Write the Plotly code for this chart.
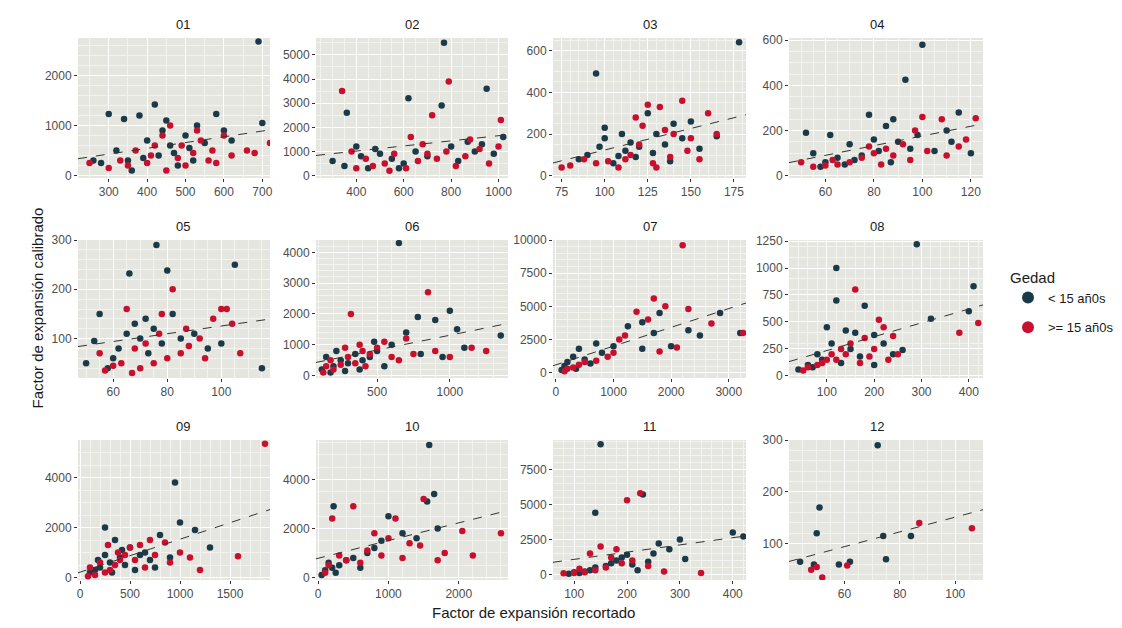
import numpy as np
import plotly.graph_objects as go

W, H = 1122, 628
DARK = "#1b3a47"
RED = "#c8102e"

panels = ["01", "02", "03", "04", "05", "06", "07", "08", "09", "10", "11", "12"]

dark_pts = {
    "01": [(690,2680),(300,1230),(340,1130),(420,1420),(380,1200),(450,1100),(580,1230),(700,1050),(530,1000),(600,900),(280,250),(320,500),(350,300),(400,700),(430,400),(460,600),(500,800),(520,300),(550,650),(480,200),(360,100),(260,300),(440,900),(620,700),(390,350),(470,450),(510,550)],
    "02": [(770,5500),(950,3600),(620,3200),(360,2600),(760,2900),(1020,1600),(870,1400),(400,1200),(500,900),(550,700),(600,500),(650,1000),(700,800),(800,1200),(900,1000),(300,600),(350,400),(450,300),(480,1100),(580,300),(830,600),(930,1300),(980,900),(420,800)],
    "03": [(178,640),(95,490),(100,230),(100,180),(110,200),(115,160),(120,140),(125,300),(130,200),(135,150),(140,250),(145,180),(150,260),(165,190),(85,80),(90,100),(105,60),(112,120),(118,90),(128,110),(138,70),(155,130),(97,140),(108,95)],
    "04": [(100,580),(93,425),(78,270),(88,250),(85,220),(115,280),(110,200),(98,180),(90,150),(80,160),(70,140),(62,180),(52,190),(55,100),(60,60),(65,80),(72,70),(75,90),(82,110),(95,120),(105,110),(120,100),(58,40),(68,50),(87,60),(112,150)],
    "05": [(76,290),(80,238),(66,232),(105,250),(115,40),(55,150),(53,95),(50,50),(60,60),(62,80),(65,110),(68,130),(70,100),(72,140),(75,120),(78,90),(85,100),(90,110),(95,80),(100,90),(58,40),(82,150),(73,70)],
    "06": [(650,4300),(1000,2100),(780,1900),(900,1800),(1050,1500),(1350,1300),(600,1000),(700,1400),(500,800),(450,600),(400,500),(350,700),(300,400),(250,500),(200,300),(150,600),(120,200),(180,100),(550,300),(800,700),(1100,900),(950,600),(380,200),(280,150),(220,800),(480,1100)],
    "07": [(2850,4500),(3200,3000),(1800,4500),(1500,3800),(1250,3500),(1000,2000),(1500,1800),(2000,2000),(2500,2800),(800,1500),(500,1000),(400,1800),(300,1200),(200,800),(150,500),(100,200),(600,700),(350,300),(1700,3000),(2300,3200),(700,2200)],
    "08": [(290,1220),(120,1000),(410,830),(180,650),(120,700),(100,450),(140,420),(160,400),(200,380),(220,300),(260,240),(320,530),(400,600),(80,200),(60,100),(40,60),(90,150),(110,300),(150,250),(170,180),(200,100),(240,200),(130,120),(70,80)],
    "09": [(950,3800),(1000,2200),(1150,1900),(250,2000),(800,1700),(500,1200),(400,800),(300,600),(200,400),(150,300),(100,200),(600,900),(700,700),(350,1500),(450,500),(550,300),(650,1000),(1300,1200),(900,800),(250,900),(180,700),(320,200),(420,1100),(750,400)],
    "10": [(1580,5400),(1650,3400),(1550,3100),(220,2900),(1000,2500),(1700,2000),(1200,1800),(900,1500),(700,1000),(500,800),(300,500),(200,400),(100,300),(150,600),(250,200),(400,700),(600,400),(800,1200),(1400,1600),(50,100)],
    "11": [(150,9300),(140,4400),(230,5700),(400,3000),(420,2700),(300,2500),(260,2200),(280,1800),(250,1500),(200,1400),(190,1200),(180,1000),(170,800),(160,600),(140,500),(130,300),(120,200),(110,100),(100,150),(90,50),(210,700),(240,900),(310,1100),(220,300)],
    "12": [(72,290),(51,170),(50,120),(44,65),(49,60),(62,65),(74,115),(84,115),(75,70),(58,60)],
}

red_pts = {
    "01": [(300,150),(330,300),(370,500),(400,250),(420,600),(440,800),(460,1000),(480,350),(500,200),(520,450),(540,700),(560,300),(580,250),(600,800),(620,400),(660,500),(720,650),(680,450),(350,200),(250,250),(450,100),(490,600),(530,900),(410,400),(570,500)],
    "02": [(340,3500),(790,3900),(720,2500),(1010,2300),(630,1600),(380,1000),(440,700),(520,500),(560,900),(610,300),(660,600),(700,900),(740,700),(780,1000),(820,400),(860,800),(920,1100),(960,500),(470,400),(540,200),(680,1300),(880,1500),(1000,1200),(400,300)],
    "03": [(125,340),(132,330),(145,360),(160,300),(118,280),(122,240),(135,220),(140,200),(150,180),(115,100),(112,80),(102,70),(95,60),(88,80),(80,50),(75,40),(108,40),(128,60),(138,90),(148,120),(155,80),(165,200),(120,150),(130,40)],
    "04": [(100,260),(122,255),(108,250),(118,160),(97,200),(92,140),(85,120),(80,100),(75,80),(70,60),(65,50),(60,45),(55,40),(50,60),(78,130),(88,90),(95,70),(102,110),(110,90),(115,130),(63,70),(83,50)],
    "05": [(65,160),(78,150),(82,200),(100,160),(102,160),(97,140),(92,100),(88,85),(85,70),(80,60),(75,50),(70,40),(67,30),(63,50),(60,45),(57,35),(55,70),(72,90),(77,110),(87,120),(94,60),(104,130),(107,70),(68,80)],
    "06": [(320,2000),(850,2700),(700,1200),(550,1100),(500,900),(450,700),(400,800),(350,400),(300,600),(250,350),(200,200),(180,500),(150,300),(130,100),(600,600),(650,500),(750,700),(900,800),(1000,600),(1150,900),(1250,800),(420,300),(280,900),(380,1000)],
    "07": [(2200,9600),(1700,5600),(1400,4600),(1900,5000),(2300,4800),(1600,4000),(1200,2800),(1000,1500),(900,1200),(1800,1600),(2100,1900),(3250,3000),(500,800),(400,600),(300,400),(200,300),(150,100),(700,900),(2700,3700),(1100,2500)],
    "08": [(160,800),(210,520),(420,490),(380,400),(240,370),(180,350),(150,300),(130,250),(110,200),(100,150),(90,120),(80,100),(60,80),(120,150),(140,200),(170,120),(200,250),(230,150),(250,200),(190,180),(50,50),(220,450)],
    "09": [(1850,5350),(1580,850),(1000,1000),(850,1400),(700,1500),(600,1300),(500,1200),(450,900),(400,700),(350,500),(300,300),(250,200),(200,600),(150,100),(100,400),(80,50),(550,700),(650,400),(750,900),(900,600),(1100,800),(1200,300),(380,1000),(280,1300)],
    "10": [(200,2400),(500,2900),(1500,3200),(1100,2400),(800,1800),(1000,1600),(1300,1400),(1800,1000),(2050,1900),(2600,1800),(1700,700),(1200,800),(900,900),(600,600),(400,700),(300,900),(150,500),(100,200),(700,1100),(1450,1300),(2200,900)],
    "11": [(200,5300),(225,5800),(130,1500),(150,2000),(170,1200),(210,1000),(190,800),(160,500),(140,300),(120,150),(100,100),(80,80),(240,600),(270,200),(340,100),(180,1800),(110,400)],
    "12": [(87,140),(106,130),(50,55),(52,35),(61,58),(48,50)],
}

x_ranges = {"01": [220,720], "02": [230,1040], "03": [70,182], "04": [45,125],
            "05": [47,118], "06": [80,1400], "07": [-50,3300], "08": [20,430],
            "09": [-20,1900], "10": [-30,2700], "11": [60,425], "12": [40,110]}
y_ranges = {"01": [-50,2750], "02": [-100,5700], "03": [-10,660], "04": [-10,610],
            "05": [20,300], "06": [-80,4400], "07": [-400,10000], "08": [-20,1260],
            "09": [-100,5500], "10": [-100,5600], "11": [-400,9600], "12": [30,300]}
x_ticks = {"01": [300,400,500,600,700], "02": [400,600,800,1000], "03": [75,100,125,150,175],
           "04": [60,80,100,120], "05": [60,80,100], "06": [500,1000], "07": [0,1000,2000,3000],
           "08": [100,200,300,400], "09": [0,500,1000,1500], "10": [0,1000,2000],
           "11": [100,200,300,400], "12": [60,80,100]}
y_ticks = {"01": [0,1000,2000], "02": [0,1000,2000,3000,4000,5000], "03": [0,200,400,600],
           "04": [0,200,400,600], "05": [100,200,300], "06": [0,1000,2000,3000,4000],
           "07": [0,2500,5000,7500,10000], "08": [0,250,500,750,1000,1250],
           "09": [0,2000,4000], "10": [0,2000,4000], "11": [0,2500,5000,7500], "12": [100,200,300]}

cols_px = [(70,262),(308,500),(545,738),(781,975)]
rows_px = [(30,170),(232,370),(432,572)]

fig = go.Figure()
for i, p in enumerate(panels):
    r, c = divmod(i, 4)
    n = "" if i == 0 else str(i + 1)
    xa, ya = "x" + n, "y" + n
    x0, x1 = cols_px[c]
    y0, y1 = rows_px[r]
    tick = dict(color="#4d4d4d", size=12, family="Liberation Sans")
    fig.layout["xaxis" + n] = dict(domain=[x0/W, x1/W], anchor=ya, range=x_ranges[p],
        tickvals=x_ticks[p], ticktext=[str(v) for v in x_ticks[p]],
        showgrid=True, gridcolor="white", gridwidth=1.2, zeroline=False,
        ticks="outside", ticklen=3, tickcolor="#333", tickfont=tick,
        minor=dict(showgrid=True, gridcolor="#f3f3f0", gridwidth=0.5))
    fig.layout["yaxis" + n] = dict(domain=[1-y1/H, 1-y0/H], anchor=xa, range=y_ranges[p],
        tickvals=y_ticks[p], ticktext=[str(v) for v in y_ticks[p]],
        showgrid=True, gridcolor="white", gridwidth=1.2, zeroline=False,
        ticks="outside", ticklen=3, tickcolor="#333", tickfont=tick,
        minor=dict(showgrid=True, gridcolor="#f3f3f0", gridwidth=0.5))
    fig.add_shape(type="rect", xref="paper", yref="paper", x0=x0/W, x1=x1/W,
                  y0=1-y1/H, y1=1-y0/H, fillcolor="#e6e6e0", line_width=0, layer="below")
    fig.add_annotation(text=p, xref="paper", yref="paper", x=(x0+x1)/2/W, y=1-(y0-4)/H,
                       yanchor="bottom", showarrow=False,
                       font=dict(size=13, color="#1a1a1a", family="Liberation Sans"))
    d = np.array(dark_pts[p]); rr = np.array(red_pts[p])
    fig.add_trace(go.Scatter(x=d[:, 0], y=d[:, 1], mode="markers", xaxis=xa, yaxis=ya,
        marker=dict(color=DARK, size=6.5), name="< 15 añ0s", legendgroup="d", showlegend=(i == 0)))
    fig.add_trace(go.Scatter(x=rr[:, 0], y=rr[:, 1], mode="markers", xaxis=xa, yaxis=ya,
        marker=dict(color=RED, size=6.5), name=">= 15 añ0s", legendgroup="r", showlegend=(i == 0)))
    allp = np.vstack([d, rr])
    b, a = np.polyfit(allp[:, 0], allp[:, 1], 1)
    xs = np.array(x_ranges[p], dtype=float)
    fig.add_trace(go.Scatter(x=xs, y=a + b*xs, mode="lines", xaxis=xa, yaxis=ya,
        line=dict(color="#333", width=1, dash="dash"), showlegend=False, hoverinfo="skip"))

fig.add_annotation(text="Factor de expansión calibrado", xref="paper", yref="paper",
                   x=18/W, y=1-300/H, textangle=-90, showarrow=False,
                   font=dict(size=15, color="#1a1a1a", family="Liberation Sans"))
fig.add_annotation(text="Factor de expansión recortado", xref="paper", yref="paper",
                   x=525/W, y=1-615/H, showarrow=False,
                   font=dict(size=15, color="#1a1a1a", family="Liberation Sans"))

fig.update_layout(width=W, height=H, margin=dict(l=0, r=0, t=0, b=0, autoexpand=False),
    plot_bgcolor="white", paper_bgcolor="white",
    legend=dict(x=1000/W, y=1-255/H, xanchor="left", yanchor="top",
                title=dict(text="Gedad", font=dict(size=15)),
                font=dict(size=13, family="Liberation Sans", color="#1a1a1a"), itemsizing="constant"),
    font=dict(family="Liberation Sans"))

fig.write_html("out.html")
